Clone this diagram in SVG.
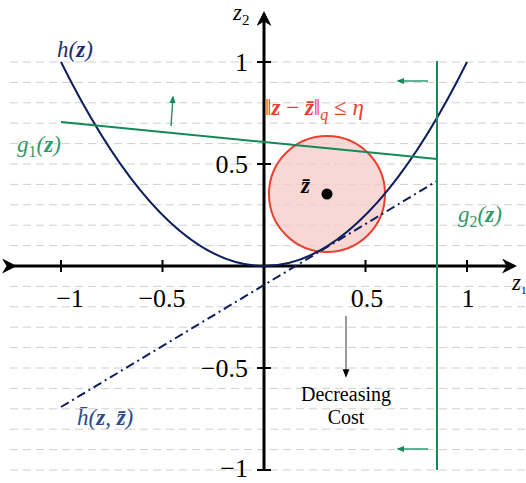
<svg xmlns="http://www.w3.org/2000/svg" width="526" height="483" viewBox="0 0 526 483">
<style>
.grid{stroke:#cfcfcf;stroke-width:1;stroke-dasharray:8 5}
.axis{stroke:#000;stroke-width:3;fill:none}
.tick{stroke:#000;stroke-width:2}
.num{font-family:"Liberation Serif",serif;font-size:26px;fill:#000}
.m{font-family:"Liberation Serif",serif;font-style:italic;font-size:23px}
.navy{stroke:#0d1f5c;stroke-width:2;fill:none}
.green{stroke:#14895a;stroke-width:2;fill:none}
.garr{stroke:#14895a;stroke-width:1.3;fill:none}
</style>
<defs>
<marker id="ah" viewBox="0 0 10 10" refX="8" refY="5" markerWidth="5" markerHeight="5" orient="auto"><path d="M0,0 L10,5 L0,10 L3,5 z" fill="#000"/></marker>
<marker id="gh" viewBox="0 0 10 10" refX="8" refY="5" markerWidth="6" markerHeight="6" orient="auto"><path d="M0,1 L10,5 L0,9 z" fill="#14895a"/></marker>
<marker id="kh" viewBox="0 0 10 10" refX="8" refY="5" markerWidth="7" markerHeight="7" orient="auto"><path d="M0,1 L10,5 L0,9 z" fill="#000"/></marker>
</defs>
<rect width="526" height="483" fill="#fff"/>
<g id="grid">
<line class="grid" x1="10" y1="62" x2="526" y2="62"/>
<line class="grid" x1="10" y1="82.4" x2="526" y2="82.4"/>
<line class="grid" x1="10" y1="102.8" x2="526" y2="102.8"/>
<line class="grid" x1="10" y1="123.2" x2="526" y2="123.2"/>
<line class="grid" x1="10" y1="143.6" x2="526" y2="143.6"/>
<line class="grid" x1="10" y1="164" x2="526" y2="164"/>
<line class="grid" x1="10" y1="184.4" x2="526" y2="184.4"/>
<line class="grid" x1="10" y1="204.8" x2="526" y2="204.8"/>
<line class="grid" x1="10" y1="225.2" x2="526" y2="225.2"/>
<line class="grid" x1="10" y1="245.6" x2="526" y2="245.6"/>
<line class="grid" x1="10" y1="286.4" x2="526" y2="286.4"/>
<line class="grid" x1="10" y1="306.8" x2="526" y2="306.8"/>
<line class="grid" x1="10" y1="327.2" x2="526" y2="327.2"/>
<line class="grid" x1="10" y1="347.6" x2="526" y2="347.6"/>
<line class="grid" x1="10" y1="368" x2="526" y2="368"/>
<line class="grid" x1="10" y1="388.4" x2="526" y2="388.4"/>
<line class="grid" x1="10" y1="408.8" x2="526" y2="408.8"/>
<line class="grid" x1="10" y1="429.2" x2="526" y2="429.2"/>
<line class="grid" x1="10" y1="449.6" x2="526" y2="449.6"/>
<line class="grid" x1="10" y1="470" x2="526" y2="470"/>
</g>
<g id="ball">
<circle cx="327" cy="194" r="58" fill="#f7c9c6" fill-opacity="0.75" stroke="#e8412f" stroke-width="2"/>
</g>
<g id="axes">
<line class="axis" x1="14" y1="266" x2="514" y2="266" marker-start="url(#ah)" marker-end="url(#ah)"/>
<line class="axis" x1="264" y1="470" x2="264" y2="14" marker-end="url(#ah)"/>
<line class="tick" x1="61" y1="260" x2="61" y2="272"/>
<line class="tick" x1="162.5" y1="260" x2="162.5" y2="272"/>
<line class="tick" x1="365.5" y1="260" x2="365.5" y2="272"/>
<line class="tick" x1="467" y1="260" x2="467" y2="272"/>
<line class="tick" x1="257" y1="62" x2="271" y2="62"/>
<line class="tick" x1="257" y1="164" x2="271" y2="164"/>
<line class="tick" x1="257" y1="368" x2="271" y2="368"/>
<line class="tick" x1="257" y1="470" x2="271" y2="470"/>
<text class="num" x="70" y="307" text-anchor="middle">−1</text>
<text class="num" x="162" y="307" text-anchor="middle">−0.5</text>
<text class="num" x="367" y="307" text-anchor="middle">0.5</text>
<text class="num" x="468" y="307" text-anchor="middle">1</text>
<text class="num" x="248" y="71" text-anchor="end">1</text>
<text class="num" x="248" y="173" text-anchor="end">0.5</text>
<text class="num" x="248" y="377" text-anchor="end">−0.5</text>
<text class="num" x="248" y="477" text-anchor="end">−1</text>
<text class="m" x="233" y="20" fill="#000" font-size="21">z<tspan font-style="normal" font-size="15" dy="5">2</tspan></text>
<text class="m" x="512" y="290" fill="#000" font-size="21">z<tspan font-style="normal" font-size="11" dy="4">1</tspan></text>
</g>
<g id="connectors">
<path id="h" class="navy" d="M61,62 Q264,470 467,62"/>
<line id="hbar" class="navy" x1="61" y1="407" x2="437" y2="181" stroke-dasharray="9 4 2 4"/>
<line id="g1" class="green" x1="61" y1="122" x2="437" y2="159"/>
<line id="g2" class="green" x1="437" y1="61" x2="437" y2="470"/>
<line class="garr" x1="171" y1="126" x2="173" y2="97" marker-end="url(#gh)"/>
<line class="garr" x1="428" y1="81" x2="398" y2="81" marker-end="url(#gh)"/>
<line class="garr" x1="428" y1="449" x2="398" y2="449" marker-end="url(#gh)"/>
<line x1="346" y1="316" x2="346" y2="376" stroke="#555" stroke-width="1.2" marker-end="url(#kh)"/>
</g>
<g id="zbar">
<circle cx="327" cy="194" r="5.5" fill="#000"/>
<text class="m" x="301" y="193" fill="#000" font-weight="bold">z̄</text>
</g>
<g id="labels">
<text class="m" x="57" y="57" fill="#1b2f6e">h(<tspan font-weight="bold">z</tspan>)</text>
<text class="m" x="17" y="152" fill="#2e9a6a">g<tspan font-style="normal" font-size="16" dy="5">1</tspan><tspan dy="-5">(</tspan><tspan font-weight="bold">z</tspan>)</text>
<text class="m" x="458" y="222" fill="#2e9a6a">g<tspan font-style="normal" font-size="16" dy="5">2</tspan><tspan dy="-5">(</tspan><tspan font-weight="bold">z</tspan>)</text>
<text class="m" x="265" y="115" fill="#e8412f">‖<tspan font-weight="bold">z</tspan><tspan font-style="normal"> − </tspan><tspan font-weight="bold">z̄</tspan>‖<tspan font-size="16" dy="5">q</tspan><tspan dy="-5" font-style="normal"> ≤ </tspan>η</text>
<text class="m" x="77" y="425" fill="#2b4a8c">h̄(<tspan font-weight="bold">z</tspan>, <tspan font-weight="bold">z̄</tspan>)</text>
<text x="346" y="401" text-anchor="middle" font-family="Liberation Serif,serif" font-size="20" fill="#000">Decreasing</text>
<text x="346" y="424" text-anchor="middle" font-family="Liberation Serif,serif" font-size="20" fill="#000">Cost</text>
</g>
</svg>
